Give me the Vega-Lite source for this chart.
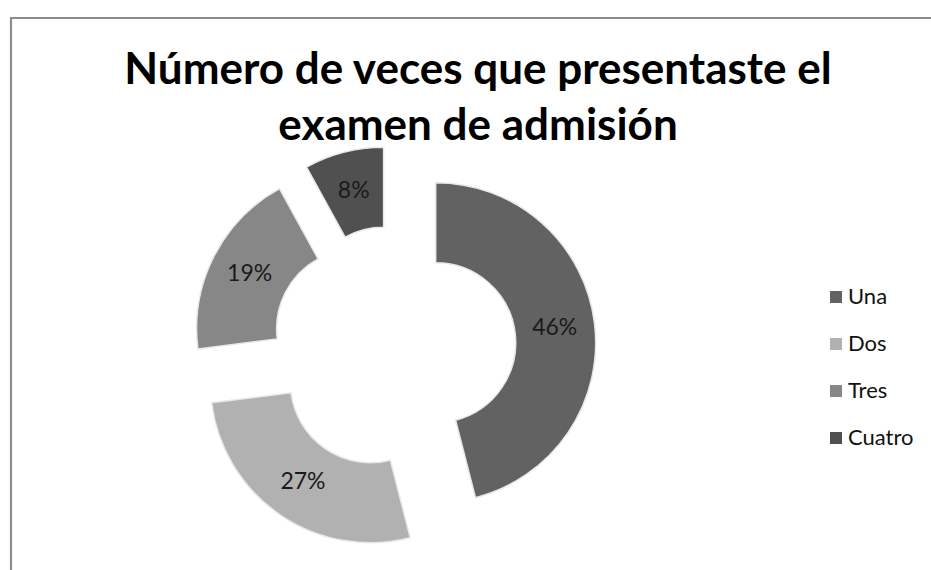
{
  "$schema": "https://vega.github.io/schema/vega-lite/v6.json",
  "width": 934,
  "height": 600,
  "autosize": {"type": "none"},
  "padding": {"left": 11, "top": 18, "right": 0, "bottom": 0},
  "background": "white",
  "view": {"stroke": "#8c8c8c", "strokeWidth": 2.2, "strokeOpacity": 1, "fill": "white"},
  "config": {"font": "Lato"},
  "title": {
    "text": ["Número de veces que presentaste el", "examen de admisión"],
    "font": "Lato",
    "fontSize": 44,
    "fontWeight": "bold",
    "color": "#000000",
    "anchor": "middle",
    "baseline": "top",
    "offset": -131,
    "lineHeight": 56
  },
  "data": {
    "values": [
      {"cat": "Una", "value": 0.46},
      {"cat": "Dos", "value": 0.27},
      {"cat": "Tres", "value": 0.19},
      {"cat": "Cuatro", "value": 0.08}
    ]
  },
  "transform": [
    {"stack": "value", "groupby": [], "sort": [{"field": "value", "order": "descending"}], "as": ["v0", "v1"]}
  ],
  "encoding": {
    "color": {
      "field": "cat",
      "type": "nominal",
      "scale": {"domain": ["Una", "Dos", "Tres", "Cuatro"], "range": ["#626262", "#b1b1b1", "#878787", "#505050"]},
      "legend": {
        "orient": "none",
        "legendX": 814,
        "legendY": 268,
        "title": null,
        "symbolType": "square",
        "symbolSize": 144,
        "symbolStrokeWidth": 0,
        "labelFont": "Lato",
        "labelFontSize": 22,
        "labelColor": "#111111",
        "rowPadding": 25,
        "labelOffset": 1
      }
    }
  },
  "layer": [
    {
      "transform": [{"filter": "datum.cat === 'Una'"}],
      "mark": {"type": "arc", "x": 383, "y": 330, "xOffset": 41.7, "yOffset": -5.3, "radius": 160, "radius2": 80, "stroke": "#e8e8e8", "strokeWidth": 1.5},
      "encoding": {"theta": {"field": "v0", "type": "quantitative", "stack": null, "scale": {"domain": [0, 1]}}, "theta2": {"field": "v1"}}
    },
    {
      "transform": [{"filter": "datum.cat === 'Dos'"}],
      "mark": {"type": "arc", "x": 383, "y": 330, "xOffset": -23.6, "yOffset": 34.7, "radius": 160, "radius2": 80, "stroke": "#e8e8e8", "strokeWidth": 1.5},
      "encoding": {"theta": {"field": "v0", "type": "quantitative", "stack": null, "scale": {"domain": [0, 1]}}, "theta2": {"field": "v1"}}
    },
    {
      "transform": [{"filter": "datum.cat === 'Tres'"}],
      "mark": {"type": "arc", "x": 383, "y": 330, "xOffset": -37.4, "yOffset": -19.1, "radius": 160, "radius2": 80, "stroke": "#e8e8e8", "strokeWidth": 1.5},
      "encoding": {"theta": {"field": "v0", "type": "quantitative", "stack": null, "scale": {"domain": [0, 1]}}, "theta2": {"field": "v1"}}
    },
    {
      "transform": [{"filter": "datum.cat === 'Cuatro'"}],
      "mark": {"type": "arc", "x": 383, "y": 330, "xOffset": -10.4, "yOffset": -40.7, "radius": 160, "radius2": 80, "stroke": "#e8e8e8", "strokeWidth": 1.5},
      "encoding": {"theta": {"field": "v0", "type": "quantitative", "stack": null, "scale": {"domain": [0, 1]}}, "theta2": {"field": "v1"}}
    },
    {
      "mark": {"type": "text", "x": 383, "y": 330, "radius": 162, "fontSize": 23, "font": "Lato"},
      "encoding": {
        "theta": {"field": "value", "type": "quantitative", "stack": true},
        "order": {"field": "value", "sort": "descending"},
        "detail": {"field": "cat"},
        "text": {"field": "value", "format": ".0%"},
        "color": {"value": "#1a1a1a"}
      }
    }
  ]
}
